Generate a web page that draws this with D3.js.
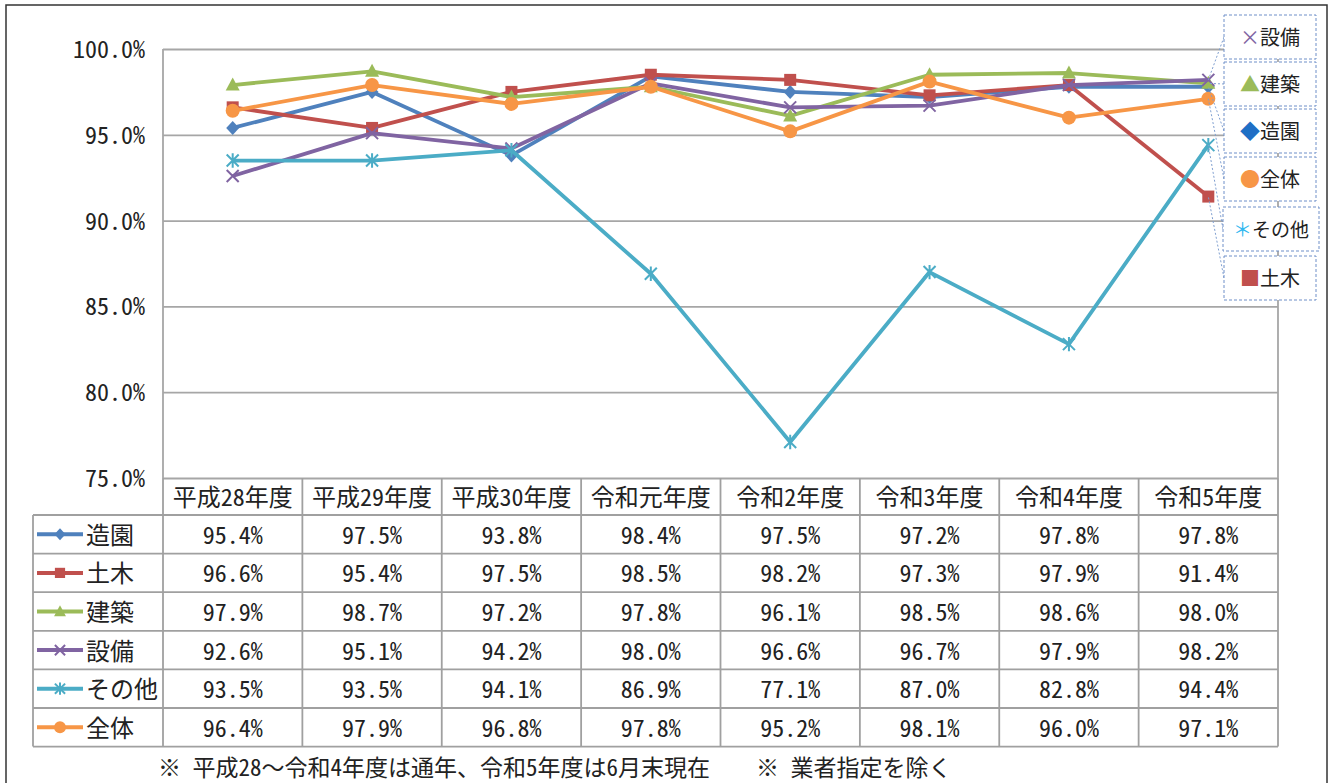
<!DOCTYPE html>
<html><head><meta charset="utf-8">
<script src="https://cdn.jsdelivr.net/npm/d3@7"></script>
<style>html,body{margin:0;padding:0;background:#fff;}svg{display:block;}</style>
</head><body>
<svg id="c" width="1329" height="783"></svg>
<script>
// ---- data ----
const categories = ["平成28年度","平成29年度","平成30年度","令和元年度","令和2年度","令和3年度","令和4年度","令和5年度"];
const seriesNames = ["造園","土木","建築","設備","その他","全体"];
const zoen   = [95.4, 97.5, 93.8, 98.4, 97.5, 97.2, 97.8, 97.8];
const doboku = [96.6, 95.4, 97.5, 98.5, 98.2, 97.3, 97.9, 91.4];
const kenchiku = [97.9, 98.7, 97.2, 97.8, 96.1, 98.5, 98.6, 98.0];
const setsubi = [92.6, 95.1, 94.2, 98.0, 96.6, 96.7, 97.9, 98.2];
const sonota = [93.5, 93.5, 94.1, 86.9, 77.1, 87.0, 82.8, 94.4];
const zentai = [96.4, 97.9, 96.8, 97.8, 95.2, 98.1, 96.0, 97.1];
const yTicks = [75, 80, 85, 90, 95, 100];
const legendOrder = ["設備","建築","造園","全体","その他","土木"];
const footNotes = ["※ 平成28～令和4年度は通年、令和5年度は6月末現在", "※ 業者指定を除く"];

const seriesValues = [zoen, doboku, kenchiku, setsubi, sonota, zentai];
const colors = {"造園":"#4F81BD","土木":"#C0504D","建築":"#9BBB59","設備":"#8064A2","その他":"#4BACC6","全体":"#F79646"};
const markers = {"造園":"diamond","土木":"square","建築":"triangle","設備":"x","その他":"star","全体":"circle"};
const series = seriesNames.map((n,i)=>({name:n, values:seriesValues[i]}));

const mono = "'Noto Sans Mono CJK JP','Noto Sans CJK JP',sans-serif";
const textColor = "#222";
const gridColor = "#a6a6a6";

const svg = d3.select("#c");
const X0 = 163, X1 = 1278, Y0 = 49, Y1 = 478;
const x = d3.scaleBand().domain(categories).range([X0, X1]).padding(0);
const y = d3.scaleLinear().domain([75, 100]).range([Y1, Y0]);

// outer frame
svg.append("rect").attr("x",6).attr("y",5).attr("width",1321).attr("height",820)
  .attr("fill","none").attr("stroke","#333").attr("stroke-width",1.5);

// gridlines
const yAxis = d3.axisLeft(y).tickValues(yTicks).tickSize(-(X1-X0)).tickFormat(d=>d.toFixed(1)+"%");
const gAxis = svg.append("g").attr("transform",`translate(${X0},0)`).call(yAxis);
gAxis.select(".domain").remove();
gAxis.selectAll(".tick line").attr("stroke",gridColor).attr("stroke-width",1.8);
gAxis.selectAll(".tick text").attr("x",-18).attr("fill",textColor)
  .style("font-family",mono).style("font-size","24px").attr("dy","0.35em");

// plot frame verticals
svg.append("line").attr("x1",X0).attr("x2",X0).attr("y1",Y0).attr("y2",Y1).attr("stroke",gridColor).attr("stroke-width",1.8);
svg.append("line").attr("x1",X1).attr("x2",X1).attr("y1",Y0).attr("y2",Y1).attr("stroke",gridColor).attr("stroke-width",1.8);

// ---- table ----
const tblL = 33, hdrTop = Y1, hdrBot = 515, rowH = 38.6;
const tblBot = hdrBot + rowH*series.length;
const tg = svg.append("g");
const tStroke = "#a0a0a0";
for (let i=0;i<=series.length;i++){
  const yy = hdrBot + i*rowH;
  tg.append("line").attr("x1",tblL).attr("x2",X1).attr("y1",yy).attr("y2",yy).attr("stroke",tStroke).attr("stroke-width",1.8);
}
tg.append("line").attr("x1",tblL).attr("x2",tblL).attr("y1",hdrBot).attr("y2",tblBot).attr("stroke",tStroke).attr("stroke-width",1.8);
const colEdges = categories.map(c=>x(c)).concat([X1]);
colEdges.forEach(cx=>{
  tg.append("line").attr("x1",cx).attr("x2",cx).attr("y1",hdrTop).attr("y2",tblBot).attr("stroke",tStroke).attr("stroke-width",1.8);
});
tg.selectAll("text.hdr").data(categories).enter().append("text")
  .attr("x",d=>x(d)+x.bandwidth()/2).attr("y",(hdrTop+hdrBot)/2+1).attr("dy","0.35em")
  .attr("text-anchor","middle").attr("fill",textColor)
  .style("font-family",mono).style("font-size","24px").text(d=>d);

// marker drawing
function drawMarker(g, type, color, cx, cy, s){
  s = s || 1;
  if (type==="diamond"){
    g.append("path").attr("d",`M${cx},${cy-7*s}L${cx+6.5*s},${cy}L${cx},${cy+7*s}L${cx-6.5*s},${cy}Z`).attr("fill",color);
  } else if (type==="square"){
    g.append("rect").attr("x",cx-6*s).attr("y",cy-6*s).attr("width",12*s).attr("height",12*s).attr("fill",color);
  } else if (type==="triangle"){
    g.append("path").attr("d",`M${cx},${cy-7.5*s}L${cx+7*s},${cy+5.5*s}L${cx-7*s},${cy+5.5*s}Z`).attr("fill",color);
  } else if (type==="circle"){
    g.append("circle").attr("cx",cx).attr("cy",cy).attr("r",7*s).attr("fill",color);
  } else if (type==="x"){
    const r=6*s;
    g.append("path").attr("d",`M${cx-r},${cy-r}L${cx+r},${cy+r}M${cx-r},${cy+r}L${cx+r},${cy-r}`).attr("stroke",color).attr("stroke-width",2).attr("fill","none");
  } else if (type==="star"){
    const r=6*s;
    g.append("path").attr("d",`M${cx-r},${cy-r}L${cx+r},${cy+r}M${cx-r},${cy+r}L${cx+r},${cy-r}M${cx},${cy-r*1.2}L${cx},${cy+r*1.2}`).attr("stroke",color).attr("stroke-width",2).attr("fill","none");
  }
}

series.forEach((s,i)=>{
  const cy = hdrBot + i*rowH + rowH/2;
  const col = colors[s.name];
  tg.append("line").attr("x1",37).attr("x2",83).attr("y1",cy).attr("y2",cy).attr("stroke",col).attr("stroke-width",4);
  drawMarker(tg, markers[s.name], col, 60, cy, 0.85);
  tg.append("text").attr("x",86).attr("y",cy+1).attr("dy","0.35em").attr("fill",textColor)
    .style("font-family",mono).style("font-size","24px").text(s.name);
  s.values.forEach((v,j)=>{
    tg.append("text").attr("x",x(categories[j])+x.bandwidth()/2).attr("y",cy+1).attr("dy","0.35em")
      .attr("text-anchor","middle").attr("fill",textColor)
      .style("font-family",mono).style("font-size","24px").text(v.toFixed(1)+"%");
  });
});

// ---- lines ----
const line = d3.line().x((d,j)=>x(categories[j])+x.bandwidth()/2).y(d=>y(d));
const lg = svg.append("g");
series.forEach(s=>{
  lg.append("path").datum(s.values).attr("d",line).attr("fill","none")
    .attr("stroke",colors[s.name]).attr("stroke-width",3.8).attr("stroke-linejoin","round");
  s.values.forEach((v,j)=>drawMarker(lg, markers[s.name], colors[s.name], x(categories[j])+x.bandwidth()/2, y(v), 1));
});

// ---- legend boxes (data labels) ----
const boxTops = [15,62,109,157,207,256];
const legSymbols = {"設備":"×","建築":"▲","造園":"◆","全体":"●","その他":"＊","土木":"■"};
const legSymColors = {"設備":"#8064A2","建築":"#9BBB59","造園":"#1F6FC5","全体":"#F79646","その他":"#2FB8F0","土木":"#C0504D"};
const bg = svg.append("g");
const lastX = x(categories[categories.length-1]) + x.bandwidth()/2;
legendOrder.forEach((n,i)=>{
  const s = series.find(d=>d.name===n);
  const bx = n==="その他" ? 1223 : 1224, bh = 44, by = boxTops[i];
  bg.append("line").attr("x1",bx).attr("y1",by+bh/2).attr("x2",lastX).attr("y2",y(s.values[s.values.length-1]))
    .attr("stroke","#7f9fd0").attr("stroke-width",1).attr("stroke-dasharray","2,2");
});
legendOrder.forEach((n,i)=>{
  const bx = n==="その他" ? 1223 : 1224, bw = n==="その他" ? 96 : 92, bh = 44, by = boxTops[i];
  bg.append("rect").attr("x",bx).attr("y",by).attr("width",bw).attr("height",bh)
    .attr("fill","#fff").attr("stroke","#6f8fc8").attr("stroke-width",1).attr("stroke-dasharray","3,2");
  const t = bg.append("text").attr("x",bx+bw/2).attr("y",by+bh/2+1).attr("dy","0.35em")
    .attr("text-anchor","middle").style("font-family",mono).style("font-size",n==="その他"?"19px":"20px");
  t.append("tspan").attr("fill",legSymColors[n]).text(legSymbols[n]);
  t.append("tspan").attr("fill",textColor).text(n);
});

// ---- footnotes ----
svg.append("text").attr("x",158).attr("y",768).attr("dy","0.35em").attr("fill",textColor)
  .style("font-family",mono).style("font-size","23px").text(footNotes[0]);
svg.append("text").attr("x",756).attr("y",768).attr("dy","0.35em").attr("fill",textColor)
  .style("font-family",mono).style("font-size","23px").text(footNotes[1]);
</script>
</body></html>
